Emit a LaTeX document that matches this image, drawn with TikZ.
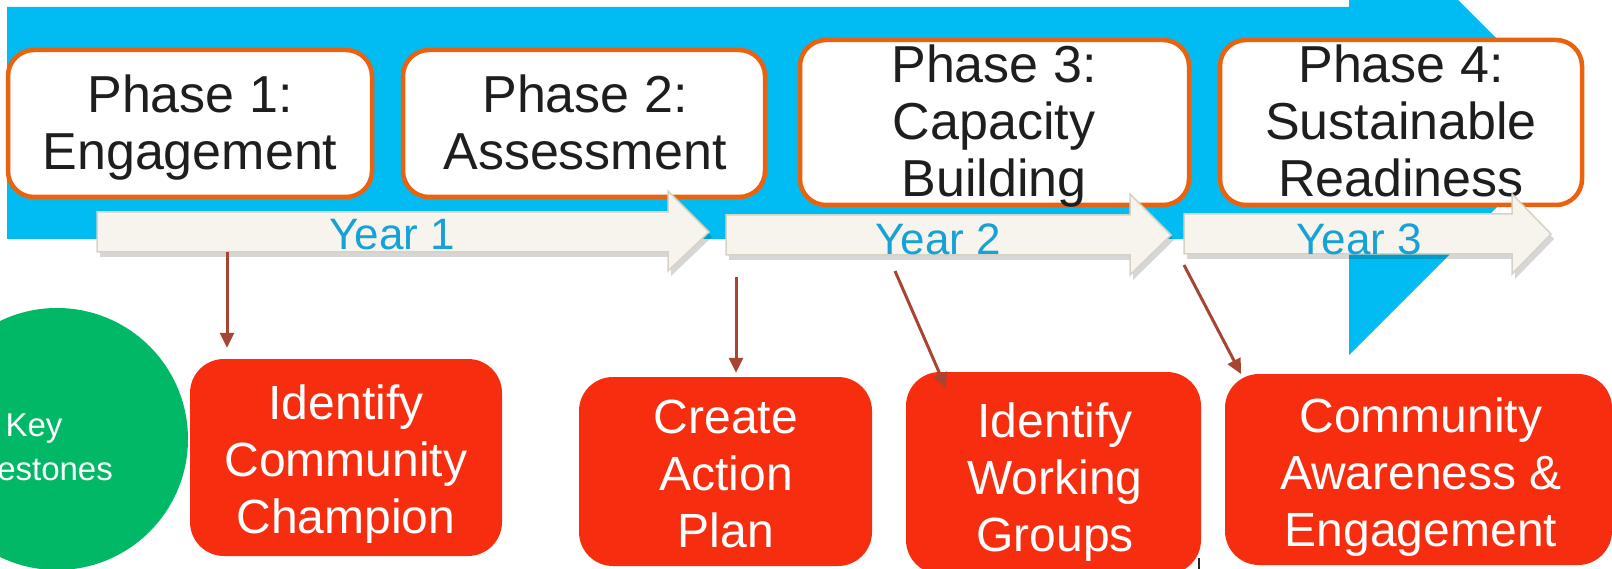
\documentclass[tikz,border=0pt]{standalone}
\usepackage{fontspec}
\setmainfont{Liberation Sans}
\usetikzlibrary{arrows.meta}
\definecolor{cBand}{RGB}{0,188,242}
\definecolor{cOrange}{RGB}{234,98,14}
\definecolor{cPhaseText}{RGB}{30,30,30}
\definecolor{cBeige}{RGB}{246,244,236}
\definecolor{cBeigeEdge}{RGB}{214,210,196}
\definecolor{cYear}{RGB}{22,162,214}
\definecolor{cRed}{RGB}{246,45,15}
\definecolor{cGreen}{RGB}{0,184,102}
\definecolor{cLink}{RGB}{168,68,50}
\begin{document}
\begin{tikzpicture}[x=1pt,y=-1pt,
  phasebox/.style={draw=cOrange,line width=4.5pt,fill=white,rounded corners=26pt,inner sep=0pt},
  phasetxt/.style={text=cPhaseText,font=\fontsize{52}{57}\selectfont,inner sep=0pt},
  yeararrow/.style={fill=cBeige,draw=cBeigeEdge,line width=1.5pt,line join=miter},
  yearshadow/.style={fill=black,opacity=0.16},
  yeartxt/.style={text=cYear,font=\fontsize{44}{50}\selectfont,anchor=base,inner sep=0pt},
  redbox/.style={fill=cRed,rounded corners=34pt,inner sep=0pt},
  redtxt/.style={text=white,font=\fontsize{48}{57}\selectfont,inner sep=0pt},
  linkarrow/.style={draw=cLink,line width=3pt,-{Triangle[length=15pt,width=14pt]}}
]
\useasboundingbox (0,0) rectangle (1612,569);
\clip (0,0) rectangle (1612,569);

% big blue arrow band
\fill[cBand] (7,7) -- (1349,7) -- (1349,-109) -- (1581,123) -- (1349,355) -- (1349,239) -- (7,239) -- cycle;

% key milestones circle
\node[circle,fill=cGreen,minimum size=262pt,inner sep=0pt] (km) at (57,439) {};
\node[text=white,font=\fontsize{33}{44}\selectfont,inner sep=0pt] (kmt) at (34,449.2)
  {\begin{tabular}{@{}c@{}}Key\\Milestones\end{tabular}};

% phase boxes
\node[phasebox,minimum width=364pt,minimum height=147pt] (p1) at (190,123.5) {};
\node[phasebox,minimum width=362pt,minimum height=147pt] (p2) at (584,123.5) {};
\node[phasebox,minimum width=389pt,minimum height=165pt] (p3) at (994.5,122.5) {};
\node[phasebox,minimum width=362pt,minimum height=165pt] (p4) at (1401,122.5) {};
\node[phasetxt] (p1t) at (190,130.1) {\begin{tabular}{@{}c@{}}Phase 1:\\Engagement\end{tabular}};
\node[phasetxt] (p2t) at (585,130.1) {\begin{tabular}{@{}c@{}}Phase 2:\\Assessment\end{tabular}};
\node[phasetxt] (p3t) at (994,128.6) {\begin{tabular}{@{}c@{}}Phase 3:\\Capacity\\Building\end{tabular}};
\node[phasetxt] (p4t) at (1401,128.6) {\begin{tabular}{@{}c@{}}Phase 4:\\Sustainable\\Readiness\end{tabular}};

% year arrows (shadows)
\begin{scope}[shift={(3,5)}]
\fill[yearshadow] (97,212) -- (668,212) -- (668,191) -- (709,232) -- (668,271) -- (668,252) -- (97,252) -- cycle;
\fill[yearshadow] (726,215) -- (1130,215) -- (1130,194) -- (1171,235) -- (1130,275) -- (1130,255) -- (726,255) -- cycle;
\fill[yearshadow] (1184,214) -- (1512,214) -- (1512,194) -- (1551,234) -- (1512,274) -- (1512,254) -- (1184,254) -- cycle;
\end{scope}
% year arrows
\path[yeararrow] (97,212) -- (668,212) -- (668,191) -- (709,232) -- (668,271) -- (668,252) -- (97,252) -- cycle;
\path[yeararrow] (726,215) -- (1130,215) -- (1130,194) -- (1171,235) -- (1130,275) -- (1130,255) -- (726,255) -- cycle;
\path[yeararrow] (1184,214) -- (1512,214) -- (1512,194) -- (1551,234) -- (1512,274) -- (1512,254) -- (1184,254) -- cycle;
\node[yeartxt] (y1) at (392,250) {Year 1};
\node[yeartxt] (y2) at (938,255) {Year 2};
\node[yeartxt] (y3) at (1359,255) {Year 3};

% red milestone boxes
\node[redbox,minimum width=312pt,minimum height=197pt] (r1) at (346,457.5) {};
\node[redbox,minimum width=293pt,minimum height=189pt] (r2) at (725.5,471.5) {};
\node[redbox,minimum width=295pt,minimum height=202pt] (r3) at (1053.5,473) {};
\node[redbox,minimum width=387pt,minimum height=191pt] (r4) at (1418.5,469.5) {};
\node[redtxt] (r1t) at (346,464.6) {\begin{tabular}{@{}c@{}}Identify\\Community\\Champion\end{tabular}};
\node[redtxt] (r2t) at (726,478.6) {\begin{tabular}{@{}c@{}}Create\\Action\\Plan\end{tabular}};
\node[redtxt] (r3t) at (1055,482.6) {\begin{tabular}{@{}c@{}}Identify\\Working\\Groups\end{tabular}};
\node[redtxt] (r4t) at (1421,477.6) {\begin{tabular}{@{}c@{}}Community\\Awareness \&\\Engagement\end{tabular}};

% connectors
\coordinate (a1s) at (227,252);
\coordinate (a2s) at (736,277);
\coordinate (a3s) at (895,271);
\coordinate (a3e) at (946,388);
\coordinate (a4s) at (1184,265);
\coordinate (a4e) at (1241,374);
\draw[linkarrow,shorten >=11pt] (a1s) -- (a1s |- r1.north);
\draw[linkarrow,shorten >=4pt] (a2s) -- (a2s |- r2.north);
\draw[linkarrow] (a3s) -- (a3e);
\draw[linkarrow] (a4s) -- (a4e);

% small stray tick
\draw[black!85,line width=1.5pt] (1199,558) -- (1199,569);
\end{tikzpicture}
\end{document}
